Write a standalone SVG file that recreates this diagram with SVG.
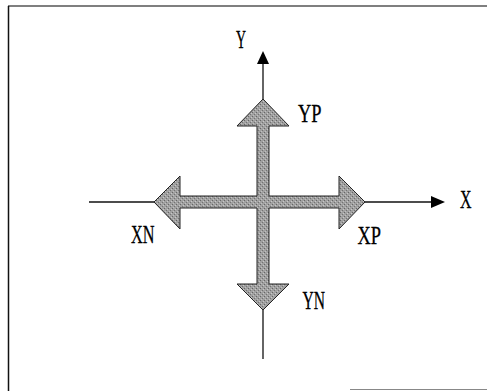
<svg xmlns="http://www.w3.org/2000/svg" width="487" height="391" viewBox="0 0 487 391">
  <style>
    .lbl { font-family: "Liberation Serif", "Times New Roman", serif; font-size: 25px; fill: #000; stroke: #000; stroke-width: 0.3; }
    .axis { stroke: #111; stroke-width: 1.3; fill: none; }
    .head { fill: #000; }
    .cross { fill: #9c9c9c; stroke: #222; stroke-width: 1; stroke-linejoin: miter; }
  </style>
  <defs>
    <pattern id="stip" width="4" height="4" patternUnits="userSpaceOnUse">
      <rect width="4" height="4" fill="#a0a0a0"/>
      <rect x="0" y="0" width="1" height="1" fill="#666"/>
      <rect x="2" y="2" width="1" height="1" fill="#737373"/>
      <rect x="3" y="1" width="1" height="1" fill="#c8c8c8"/>
      <rect x="1" y="3" width="1" height="1" fill="#c0c0c0"/>
    </pattern>
  </defs>
  <rect width="487" height="391" fill="#fff"/>
  <g id="frame">
    <line x1="8" y1="6" x2="487" y2="6" stroke="#555" stroke-width="1.5"/>
    <line x1="8.5" y1="6" x2="8.5" y2="391" stroke="#111" stroke-width="1.5"/>
    <line x1="350" y1="389.5" x2="487" y2="389.5" stroke="#888" stroke-width="1"/>
  </g>
  <g id="connectors">
    <line class="axis" x1="263" y1="63" x2="263" y2="99"/>
    <polygon class="head" points="263,51 269,64 257,64"/>
    <line class="axis" x1="263" y1="310" x2="263" y2="359"/>
    <line class="axis" x1="89" y1="202" x2="154" y2="202"/>
    <line class="axis" x1="365" y1="202" x2="432" y2="202"/>
    <polygon class="head" points="445,202 431,196 431,208"/>
  </g>
  <g id="cross">
    <polygon class="cross" style="fill:url(#stip)" points="263,99 289,126 269,126 269,196 339,196 339,176 365,202 339,229 339,208 269,208 269,284 289,284 263,310 237,284 257,284 257,208 180,208 180,229 154,202 180,176 180,196 257,196 257,126 237,126"/>
  </g>
  <g id="label-Y"><text class="lbl" x="236" y="48" textLength="10" lengthAdjust="spacingAndGlyphs">Y</text></g>
  <g id="label-YP"><text class="lbl" x="298" y="122" textLength="23.5" lengthAdjust="spacingAndGlyphs">YP</text></g>
  <g id="label-XN"><text class="lbl" x="131" y="243" textLength="23.5" lengthAdjust="spacingAndGlyphs">XN</text></g>
  <g id="label-XP"><text class="lbl" x="357.5" y="243.5" textLength="23.5" lengthAdjust="spacingAndGlyphs">XP</text></g>
  <g id="label-YN"><text class="lbl" x="302.5" y="308.5" textLength="22.5" lengthAdjust="spacingAndGlyphs">YN</text></g>
  <g id="label-X"><text class="lbl" x="460" y="208" textLength="11.5" lengthAdjust="spacingAndGlyphs">X</text></g>
</svg>
